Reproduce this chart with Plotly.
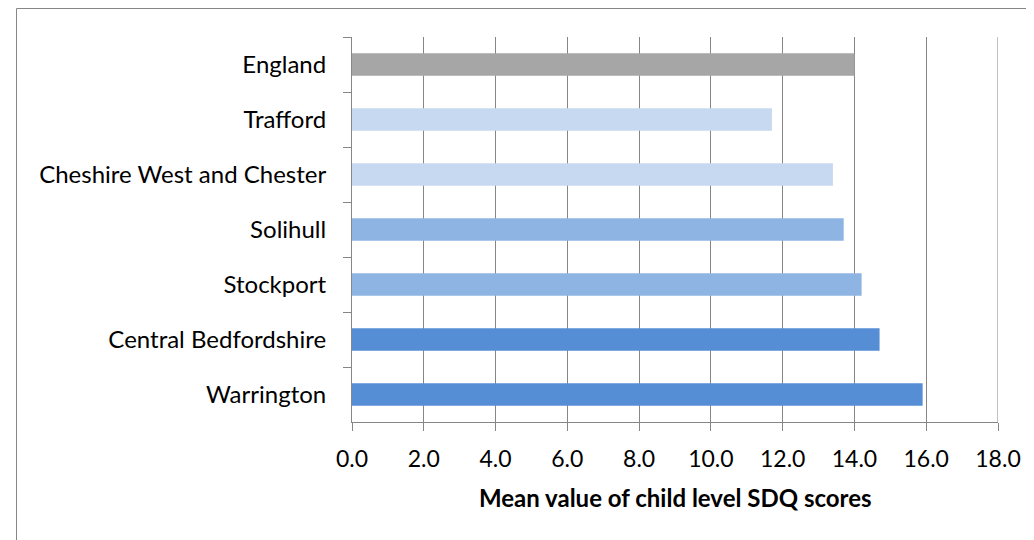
import plotly.graph_objects as go

categories = ["England", "Trafford", "Cheshire West and Chester", "Solihull",
              "Stockport", "Central Bedfordshire", "Warrington"]
values = [14.0, 11.7, 13.4, 13.7, 14.2, 14.7, 15.9]
colors = ["#A6A6A6", "#C6D9F1", "#C6D9F1", "#8EB4E3", "#8EB4E3", "#558ED5", "#558ED5"]
x_title = "Mean value of child level SDQ scores"
x_max = 18

# page body has an 8px margin, so the figure is drawn 8px in from the edges
W, H = 1026, 532
L, R, T, B = 344, 36, 29, 118
pw, ph = W - L - R, H - T - B

FONT = "Lato"
GRID = "#868686"

fig = go.Figure(go.Bar(
    x=values, y=categories, orientation="h",
    marker=dict(color=colors, line=dict(width=0)),
    hoverinfo="x+y",
))

fig.update_layout(
    width=W, height=H,
    margin=dict(l=L, r=R, t=T, b=B, autoexpand=False),
    paper_bgcolor="white", plot_bgcolor="white",
    bargap=0.59,
    showlegend=False,
    font=dict(family=FONT, size=24, color="#000000"),
    xaxis=dict(
        range=[0, x_max], dtick=2, tick0=0, tickformat=".1f",
        showgrid=True, gridcolor=GRID, gridwidth=1,
        showline=True, linecolor=GRID, linewidth=1,
        ticks="outside", ticklen=8, tickcolor=GRID, tickwidth=1,
        ticklabelstandoff=8,
        zeroline=False, fixedrange=True,
        tickfont=dict(family=FONT, size=23, color="#000000"),
    ),
    yaxis=dict(
        type="category", autorange="reversed",
        showgrid=False,
        showline=True, linecolor=GRID, linewidth=1,
        ticks="outside", ticklen=8, tickcolor=GRID, tickwidth=1,
        tickson="boundaries",
        ticklabelstandoff=20,
        fixedrange=True,
        tickfont=dict(family=FONT, size=24, color="#000000"),
    ),
    annotations=[dict(
        text="<b>" + x_title + "</b>",
        xref="paper", yref="paper", x=0.5, y=-(489 - (H - B)) / ph,
        xanchor="center", yanchor="middle", showarrow=False,
        font=dict(family=FONT, size=24, color="#000000"),
    )],
    shapes=[
        dict(
            type="line", xref="x", yref="paper",
            x0=x_max, x1=x_max, y0=0, y1=1,
            line=dict(color=GRID, width=1), layer="below",
        ),
        dict(
            type="rect", xref="paper", yref="paper",
            x0=(8.5 - L) / pw, x1=1.2,
            y0=1 + (T - 0.5) / ph, y1=-0.5,
            line=dict(color=GRID, width=1), fillcolor="rgba(0,0,0,0)",
            layer="below",
        ),
    ],
)

fig.write_html("out.html")
